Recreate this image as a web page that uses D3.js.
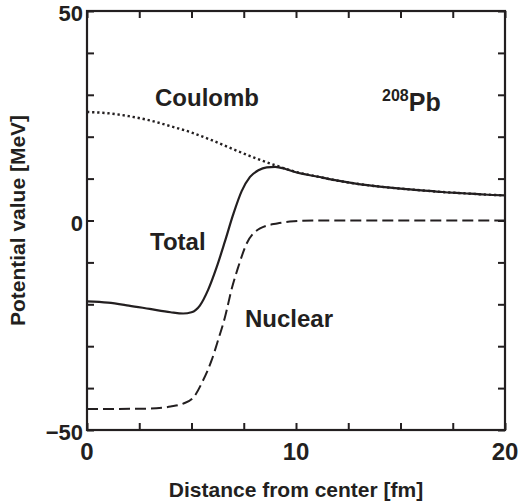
<!DOCTYPE html>
<html>
<head>
<meta charset="utf-8">
<script src="https://cdn.jsdelivr.net/npm/d3@7"></script>
<style>
  body { margin: 0; background: #fff; }
  text { font-family: "Liberation Sans", Arial, Helvetica, sans-serif; font-weight: bold; fill: #231f20; }
</style>
</head>
<body>
<div id="chart"></div>
<script>
// values (r in fm, V in MeV)
var coulombR = [0, 1, 2, 3, 4, 5, 6, 7, 8, 9, 10, 11, 12, 13, 14, 15, 16, 17, 18, 19, 20];
var coulombV = [25.9, 25.6, 24.9, 23.9, 22.5, 21.0, 19.1, 17.0, 15.0, 13.2, 11.6, 10.5, 9.5, 8.7, 8.1, 7.6, 7.2, 6.8, 6.5, 6.2, 6.0];

var totalR = [0, 1, 2, 3, 4, 4.6, 5, 5.4, 5.8, 6.2, 6.6, 7.0, 7.4, 7.8, 8.2, 8.6, 9.0, 9.5, 10, 11, 12, 13, 14, 15, 16, 17, 18, 19, 20];
var totalV = [-19.3, -19.6, -20.3, -21.1, -21.9, -22.2, -21.9, -20.3, -16.5, -11.2, -5.0, 1.5, 7.0, 10.4, 12.0, 12.7, 12.8, 12.3, 11.5, 10.5, 9.5, 8.7, 8.1, 7.6, 7.2, 6.8, 6.5, 6.2, 6.0];

var nuclearR = [0, 3, 4, 4.6, 5.1, 5.55, 5.96, 6.27, 6.6, 6.94, 7.23, 7.64, 8.28, 9.1, 9.9, 11, 20];
var nuclearV = [-45, -44.9, -44.4, -43.7, -42.2, -38.2, -33.4, -28.6, -23.1, -16, -11.2, -5.5, -1.9, -0.7, -0.2, 0, 0];

var xTickLabels = [0, 10, 20];
var yTickLabels = [-50, 0, 50];

var margin = {top: 11, right: 13, bottom: 71, left: 87},
  width = 518 - margin.left - margin.right,
  height = 501 - margin.top - margin.bottom;

var svg = d3.select("#chart").append("svg")
  .attr("width", 518)
  .attr("height", 501)
  .append("g")
  .attr("transform", "translate(" + margin.left + "," + margin.top + ")");

var x = d3.scaleLinear().domain([0, 20]).range([0, width]);
var y = d3.scaleLinear().domain([-50, 50]).range([height, 0]);

var ink = "#231f20";

// ticks on all four sides, pointing inward
var xTicks = d3.range(0, 20.01, 2.5);
var yTicks = d3.range(-50, 50.01, 10);

function styleAxis(g) {
  g.select(".domain").remove();
  g.selectAll(".tick line").attr("stroke", ink).attr("stroke-width", 2);
  g.selectAll(".tick text").remove();
}

svg.append("g")
  .attr("transform", "translate(0," + height + ")")
  .call(d3.axisTop(x).tickValues(xTicks).tickSizeOuter(0).tickSize(7))
  .call(styleAxis);
svg.append("g")
  .call(d3.axisBottom(x).tickValues(xTicks).tickSizeOuter(0).tickSize(7))
  .call(styleAxis);
svg.append("g")
  .call(d3.axisRight(y).tickValues(yTicks).tickSizeOuter(0).tickSize(7))
  .call(styleAxis);
svg.append("g")
  .attr("transform", "translate(" + width + ",0)")
  .call(d3.axisLeft(y).tickValues(yTicks).tickSizeOuter(0).tickSize(7))
  .call(styleAxis);

// frame
svg.append("rect")
  .attr("width", width)
  .attr("height", height)
  .attr("fill", "none")
  .attr("stroke", ink)
  .attr("stroke-width", 2.2);

// tick labels
svg.selectAll(".xlab")
  .data(xTickLabels)
  .enter().append("text")
  .attr("class", "xlab")
  .attr("x", function(d) { return x(d); })
  .attr("y", height + 30)
  .attr("text-anchor", "middle")
  .style("font-size", "24px")
  .text(function(d) { return d; });

svg.selectAll(".ylab")
  .data(yTickLabels)
  .enter().append("text")
  .attr("class", "ylab")
  .attr("x", -4)
  .attr("y", function(d) { return y(d) + 10; })
  .attr("text-anchor", "end")
  .style("font-size", "22px")
  .text(function(d) { return d < 0 ? "\u2212" + Math.abs(d) : d; });

// axis titles
svg.append("text")
  .attr("x", width / 2)
  .attr("y", height + 67)
  .attr("text-anchor", "middle")
  .style("font-size", "21px")
  .text("Distance from center [fm]");

svg.append("text")
  .attr("transform", "rotate(-90)")
  .attr("x", -height / 2)
  .attr("y", -62)
  .attr("text-anchor", "middle")
  .style("font-size", "21px")
  .text("Potential value [MeV]");

// curves
var line = d3.line()
  .x(function(d) { return x(d[0]); })
  .y(function(d) { return y(d[1]); })
  .curve(d3.curveMonotoneX);

svg.append("path")
  .datum(d3.zip(coulombR, coulombV))
  .attr("fill", "none")
  .attr("stroke", ink)
  .attr("stroke-width", 2.4)
  .attr("stroke-dasharray", "2.3,2.8")
  .attr("d", line);

svg.append("path")
  .datum(d3.zip(nuclearR, nuclearV))
  .attr("fill", "none")
  .attr("stroke", ink)
  .attr("stroke-width", 2)
  .attr("stroke-dasharray", "11,5")
  .attr("d", line);

svg.append("path")
  .datum(d3.zip(totalR, totalV))
  .attr("fill", "none")
  .attr("stroke", ink)
  .attr("stroke-width", 2.2)
  .attr("d", line);

// curve labels
svg.append("text").attr("x", 155 - margin.left).attr("y", 106 - margin.top)
  .style("font-size", "24px").text("Coulomb");
svg.append("text").attr("x", 150 - margin.left).attr("y", 250 - margin.top)
  .style("font-size", "24px").text("Total");
svg.append("text").attr("x", 245 - margin.left).attr("y", 327 - margin.top)
  .style("font-size", "24px").text("Nuclear");

var pb = svg.append("text").attr("x", 382 - margin.left).attr("y", 111 - margin.top)
  .style("font-size", "25px");
pb.append("tspan").style("font-size", "16px").attr("dy", -10).text("208");
pb.append("tspan").attr("dy", 10).text("Pb");
</script>
</body>
</html>
